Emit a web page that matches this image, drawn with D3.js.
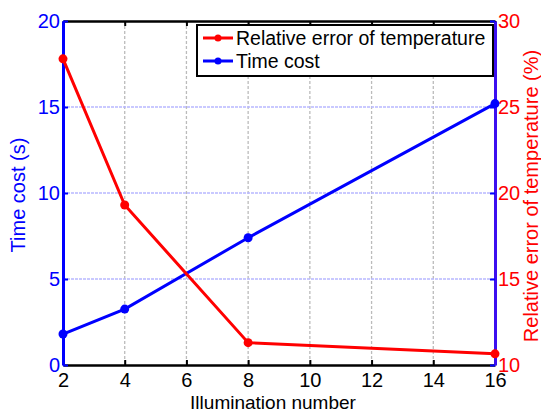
<!DOCTYPE html>
<html lang="en">
<head>
  <meta charset="UTF-8">
  <title>Time cost vs illumination number</title>
  <script src="https://d3js.org/d3.v7.min.js"></script>
  <style>
    body { margin: 0; background: #fff; }
    text { font-family: "Liberation Sans", Arial, sans-serif; }
  </style>
</head>
<body>
  <svg id="chart"></svg>
  <script>
    const width = 541;
    const height = 414;

    // data
    const illumination = [2, 4, 8, 16];
    const timeCost = [1.8, 3.25, 7.4, 15.2];
    const relError = [27.8, 19.3, 11.3, 10.65];
    const xTicks = [2, 4, 6, 8, 10, 12, 14, 16];
    const leftTicks = [0, 5, 10, 15, 20];
    const rightTicks = [10, 15, 20, 25, 30];

    const margin = { top: 21, right: 46, bottom: 49, left: 63 };
    const svg = d3.select("#chart").attr("width", width).attr("height", height);

    const x = d3.scaleLinear().domain([2, 16]).range([margin.left, width - margin.right]);
    const yL = d3.scaleLinear().domain([0, 20]).range([height - margin.bottom, margin.top]);
    const yR = d3.scaleLinear().domain([10, 30]).range([height - margin.bottom, margin.top]);

    const blue = "#0000ff";
    const red = "#ff0000";
    const midY = (margin.top + height - margin.bottom) / 2;

    // grid
    svg.append("g").selectAll("line").data(xTicks.slice(1, -1)).join("line")
      .attr("x1", d => x(d)).attr("x2", d => x(d))
      .attr("y1", margin.top).attr("y2", height - margin.bottom)
      .attr("stroke", "#bbb").attr("stroke-width", 1.3).attr("stroke-dasharray", "3,2");
    svg.append("g").selectAll("line").data(leftTicks.slice(1, -1)).join("line")
      .attr("x1", margin.left).attr("x2", width - margin.right)
      .attr("y1", d => yL(d)).attr("y2", d => yL(d))
      .attr("stroke", "#b8b8ff").attr("stroke-width", 1.3).attr("stroke-dasharray", "3,1");

    // bottom axis
    const xAxis = svg.append("g")
      .attr("transform", `translate(0,${height - margin.bottom})`)
      .call(d3.axisBottom(x).tickValues(xTicks).tickSizeInner(-5).tickSizeOuter(0).tickPadding(8));
    xAxis.select(".domain").attr("stroke", "#000").attr("stroke-width", 2.5);
    xAxis.selectAll(".tick line").attr("stroke", "#000").attr("stroke-width", 2);
    xAxis.selectAll("text").attr("font-size", 20).attr("fill", "#000");

    // top axis (ticks only)
    const topAxis = svg.append("g")
      .attr("transform", `translate(0,${margin.top})`)
      .call(d3.axisTop(x).tickValues(xTicks).tickSizeInner(-5).tickSizeOuter(0).tickFormat(""));
    topAxis.select(".domain").attr("stroke", "#000").attr("stroke-width", 2.5);
    topAxis.selectAll(".tick line").attr("stroke", "#000").attr("stroke-width", 2);

    // left axis
    const leftAxis = svg.append("g")
      .attr("transform", `translate(${margin.left},0)`)
      .call(d3.axisLeft(yL).tickValues(leftTicks).tickSizeInner(-5).tickSizeOuter(0).tickPadding(3));
    leftAxis.select(".domain").attr("stroke", blue).attr("stroke-width", 3);
    leftAxis.selectAll(".tick line").attr("stroke", blue).attr("stroke-width", 2);
    leftAxis.selectAll("text").attr("font-size", 20).attr("fill", blue);

    // right axis
    const rightAxis = svg.append("g")
      .attr("transform", `translate(${width - margin.right},0)`)
      .call(d3.axisRight(yR).tickValues(rightTicks).tickSizeInner(-5).tickSizeOuter(0).tickPadding(3));
    rightAxis.select(".domain").attr("stroke", "#3c0ff0").attr("stroke-width", 3);
    rightAxis.selectAll(".tick line").attr("stroke", blue).attr("stroke-width", 2);
    rightAxis.selectAll("text").attr("font-size", 20).attr("fill", red);

    // series
    const lineBlue = d3.line().x((d, i) => x(illumination[i])).y(d => yL(d));
    const lineRed = d3.line().x((d, i) => x(illumination[i])).y(d => yR(d));

    svg.append("path").datum(timeCost).attr("d", lineBlue)
      .attr("fill", "none").attr("stroke", blue).attr("stroke-width", 3);
    svg.append("g").selectAll("circle").data(timeCost).join("circle")
      .attr("cx", (d, i) => x(illumination[i])).attr("cy", d => yL(d)).attr("r", 4.5).attr("fill", blue);

    svg.append("path").datum(relError).attr("d", lineRed)
      .attr("fill", "none").attr("stroke", red).attr("stroke-width", 3);
    svg.append("g").selectAll("circle").data(relError).join("circle")
      .attr("cx", (d, i) => x(illumination[i])).attr("cy", d => yR(d)).attr("r", 4.5).attr("fill", red);

    // axis titles
    svg.append("text")
      .attr("x", (margin.left + width - margin.right) / 2 - 6).attr("y", 409)
      .attr("text-anchor", "middle").attr("font-size", 19).attr("fill", "#000")
      .text("Illumination number");
    svg.append("text")
      .attr("transform", `translate(25,${midY + 2}) rotate(-90)`)
      .attr("text-anchor", "middle").attr("font-size", 20).attr("fill", blue)
      .text("Time cost (s)");
    svg.append("text")
      .attr("transform", `translate(538,${midY + 3}) rotate(-90)`)
      .attr("text-anchor", "middle").attr("font-size", 20).attr("fill", red)
      .text("Relative error of temperature (%)");

    // legend
    const legend = svg.append("g").attr("transform", "translate(197,25)");
    legend.append("rect").attr("width", 296).attr("height", 51)
      .attr("fill", "#fff").attr("stroke", "#000").attr("stroke-width", 2);
    const items = [
      { label: "Relative error of temperature", color: red },
      { label: "Time cost", color: blue }
    ];
    items.forEach((it, i) => {
      const g = legend.append("g").attr("transform", `translate(0,${13 + i * 23})`);
      g.append("line").attr("x1", 6).attr("x2", 36).attr("y1", 0).attr("y2", 0)
        .attr("stroke", it.color).attr("stroke-width", 3);
      g.append("circle").attr("cx", 21).attr("cy", 0).attr("r", 3.5).attr("fill", it.color);
      g.append("text").attr("x", 39).attr("y", 7).attr("font-size", 19.5).attr("fill", "#000").text(it.label);
    });
  </script>
</body>
</html>
